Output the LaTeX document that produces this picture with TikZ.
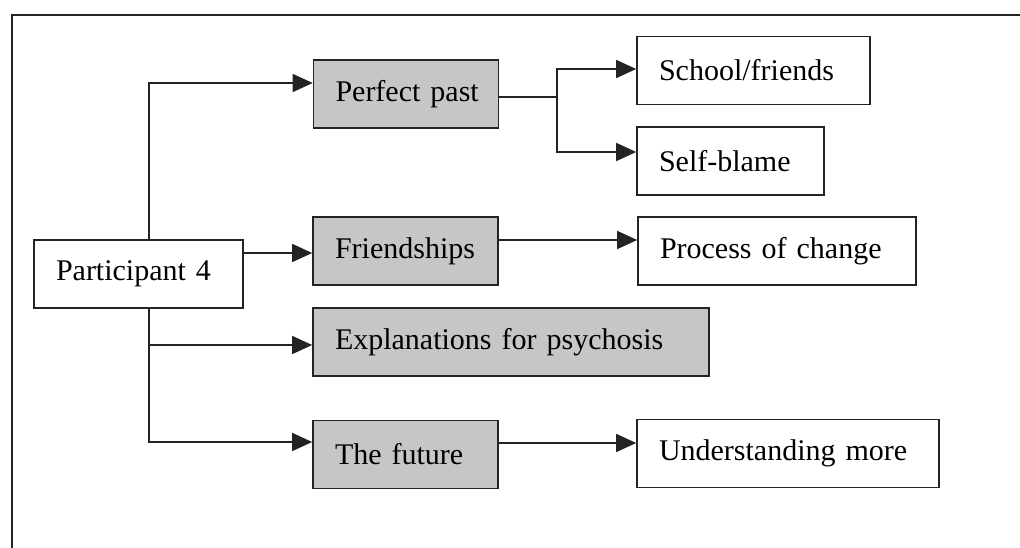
\documentclass[tikz,border=0pt]{standalone}
\usepackage{fontspec}
\setmainfont{Liberation Serif}
\usetikzlibrary{arrows.meta,calc}
\definecolor{boxgray}{RGB}{198,198,198}
\definecolor{ink}{RGB}{35,35,35}
\begin{document}
\begin{tikzpicture}[x=1pt,y=-1pt,
 bx/.style={draw=ink, line width=1.6pt, inner xsep=22pt, inner ysep=0pt, align=left, minimum height=68pt, font=\fontsize{30}{36}\selectfont, text=black},
 sh/.style={bx, fill=boxgray},
 arr/.style={draw=ink, line width=1.5pt, -{Triangle[length=20pt,width=18pt]}},
 ln/.style={draw=ink, line width=1.5pt}]
\useasboundingbox (0,0) rectangle (1020,548);
\draw[line width=1.8pt, draw=ink] (12,548) -- (12,15) -- (1020,15);

\node[bx, text width=165pt] (p4) at (138.5,274) {\mbox{Participant 4}};
\node[sh, text width=141pt] (pp) at (406,94) {\mbox{Perfect past}};
\node[bx, text width=189pt] (sf) at (753.5,70.5) {\mbox{School/friends}};
\node[bx, text width=143pt] (sb) at (730.5,161) {\mbox{Self-blame}};
\node[sh, text width=141pt] (fr) at (405.5,251) {\mbox{Friendships}};
\node[bx, text width=234pt] (pc) at (777,251) {\mbox{Process of change}};
\node[sh, text width=352pt] (ex) at (511,342) {\mbox{Explanations for psychosis}};
\node[sh, text width=141pt] (fut) at (405.5,454.5) {\mbox{The future}};
\node[bx, text width=258pt] (um) at (788,453.5) {\mbox{Understanding more}};

\coordinate (jn) at (557,97);
\draw[arr] ([xshift=116pt]p4.north west) |- ([yshift=11pt]pp.west);
\draw[arr] ([yshift=21pt]p4.east) -- ([yshift=21pt]p4.east -| fr.west);
\draw[arr] ([xshift=116pt]p4.south west) |- ([yshift=12.5pt]fut.west);
\draw[arr] ([xshift=116pt]p4.south west) |- ([yshift=-3pt]ex.west);
\draw[ln] (pp.east |- jn) -- (jn);
\draw[arr] (jn) |- ([yshift=1.5pt]sf.west);
\draw[arr] (jn) |- ([yshift=9pt]sb.west);
\draw[arr] ([yshift=11pt]fr.east) -- ([yshift=11pt]fr.east -| pc.west);
\draw[arr] ([yshift=11.5pt]fut.east) -- ([yshift=11.5pt]fut.east -| um.west);
\end{tikzpicture}
\end{document}
